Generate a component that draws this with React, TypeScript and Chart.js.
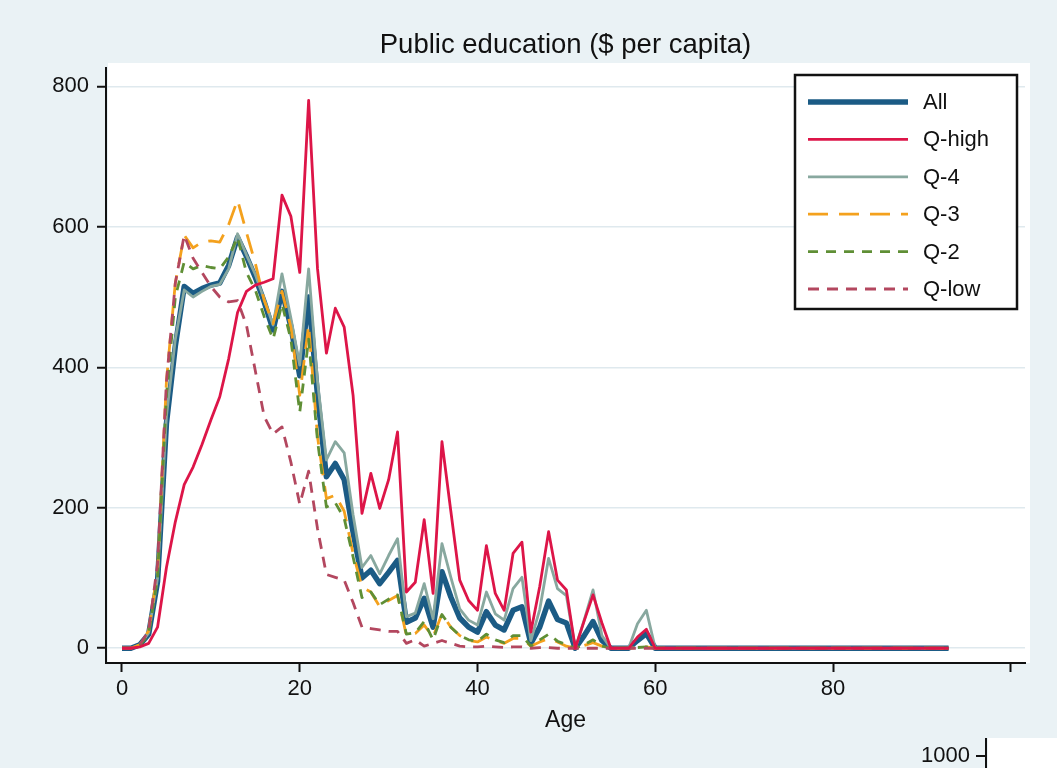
import React, { useEffect, useRef } from 'react';
import { Chart, registerables } from 'chart.js';

Chart.register(...registerables);

// ---------- data ----------
const ages = [
  0, 1, 2, 3, 4, 5, 6, 7, 8, 9,
  10, 11, 12, 13, 14, 15, 16, 17, 18, 19,
  20, 21, 22, 23, 24, 25, 26, 27, 28, 29,
  30, 31, 32, 33, 34, 35, 36, 37, 38, 39,
  40, 41, 42, 43, 44, 45, 46, 47, 48, 49,
  50, 51, 52, 53, 54, 55, 56, 57, 58, 59,
  60, 61, 62, 63, 64, 65, 66, 67, 68, 69,
  70, 71, 72, 73, 74, 75, 76, 77, 78, 79,
  80, 81, 82, 83, 84, 85, 86, 87, 88, 89,
  90, 91, 92, 93,
];

const seriesAll = [
  0, 0, 5, 20, 95, 320, 430, 515, 505, 512,
  517, 520, 545, 585, 558, 528, 493, 453, 508, 458,
  388, 500, 360, 244, 263, 240, 165, 100, 111, 92,
  108, 125, 37, 43, 71, 30, 109, 73, 43, 30,
  23, 52, 33, 26, 54, 59, 7, 30, 67, 41,
  36, 0, 18, 38, 11, 0, 0, 0, 11, 21,
  0, 0, 0, 0, 0, 0, 0, 0, 0, 0,
  0, 0, 0, 0, 0, 0, 0, 0, 0, 0,
  0, 0, 0, 0, 0, 0, 0, 0, 0, 0,
  0, 0, 0, 0,
];

const seriesQHigh = [
  0, 0, 2, 7, 30, 115, 180, 233, 258, 290,
  325, 358, 412, 478, 508, 517, 521, 526, 645, 615,
  535, 780, 540, 420, 484, 457, 360, 192, 249, 199,
  240, 308, 80, 94, 183, 78, 294, 195, 97, 68,
  54, 146, 78, 54, 135, 151, 23, 88, 166, 97,
  83, 0, 39, 76, 36, 0, 0, 0, 16, 27,
  0, 0, 0, 0, 0, 0, 0, 0, 0, 0,
  0, 0, 0, 0, 0, 0, 0, 0, 0, 0,
  0, 0, 0, 0, 0, 0, 0, 0, 0, 0,
  0, 0, 0, 0,
];

const seriesQ4 = [
  0, 0, 5, 22, 100, 330, 440, 510, 500, 508,
  515, 518, 540, 590, 560, 532, 497, 460, 533, 470,
  403, 540, 380, 268, 294, 278, 190, 115, 132, 106,
  132, 156, 45, 50, 92, 42, 149, 101, 56, 40,
  33, 80, 49, 40, 85, 101, 11, 55, 128, 85,
  75, 0, 40, 83, 18, 0, 0, 0, 35, 54,
  0, 0, 0, 0, 0, 0, 0, 0, 0, 0,
  0, 0, 0, 0, 0, 0, 0, 0, 0, 0,
  0, 0, 0, 0, 0, 0, 0, 0, 0, 0,
  0, 0, 0, 0,
];

const seriesQ3 = [
  0, 0, 5, 25, 110, 380, 520, 588, 570, 578,
  580, 578, 603, 638, 592, 548, 495, 462, 508, 457,
  360, 460, 301, 213, 218, 195, 135, 87, 80, 59,
  68, 75, 18, 21, 33, 16, 49, 30, 18, 11,
  9, 16, 11, 7, 14, 14, 3, 9, 14, 9,
  3, 0, 4, 8, 3, 0, 0, 0, 1, 2,
  0, 0, 0, 0, 0, 0, 0, 0, 0, 0,
  0, 0, 0, 0, 0, 0, 0, 0, 0, 0,
  0, 0, 0, 0, 0, 0, 0, 0, 0, 0,
  0, 0, 0, 0,
];

const seriesQ2 = [
  0, 0, 4, 20, 100, 360, 500, 550, 540, 545,
  542, 540, 557, 585, 535, 510, 472, 440, 490, 440,
  336, 440, 295, 201, 207, 185, 130, 72, 80, 62,
  70, 76, 20, 22, 38, 12, 48, 30, 18, 12,
  10, 20, 12, 8, 18, 18, 3, 12, 20, 10,
  5, 0, 5, 12, 3, 0, 0, 0, 1, 2,
  0, 0, 0, 0, 0, 0, 0, 0, 0, 0,
  0, 0, 0, 0, 0, 0, 0, 0, 0, 0,
  0, 0, 0, 0, 0, 0, 0, 0, 0, 0,
  0, 0, 0, 0,
];

const seriesQLow = [
  0, 0, 5, 25, 120, 380, 520, 588, 555, 535,
  515, 500, 493, 495, 460, 395, 330, 305, 315, 265,
  205, 252, 170, 105, 101, 97, 65, 30, 28, 26,
  24, 24, 7, 12, 3, 7, 11, 7, 3, 2,
  2, 3, 2, 1, 2, 2, 0, 1, 1, 0,
  0, 0, 0, 0, 0, 0, 0, 0, 0, 0,
  0, 0, 0, 0, 0, 0, 0, 0, 0, 0,
  0, 0, 0, 0, 0, 0, 0, 0, 0, 0,
  0, 0, 0, 0, 0, 0, 0, 0, 0, 0,
  0, 0, 0, 0,
];

const seriesNames = ['All', 'Q-high', 'Q-4', 'Q-3', 'Q-2', 'Q-low'];
const xTickValues = [0, 20, 40, 60, 80, 100];
const xTickLabels = ['0', '20', '40', '60', '80', ''];
const yTickValues = [0, 200, 400, 600, 800];
const yTickLabels = ['0', '200', '400', '600', '800'];

const FONT = '"Liberation Sans", Arial, Helvetica, sans-serif';
const TEXT = '#111111';

const toPoints = (vals: number[]) => vals.map((v, i) => ({ x: ages[i], y: v }));

const bgPlugin = {
  id: 'bgPlugin',
  beforeDraw(chart: any) {
    const { ctx, width, height, chartArea: a } = chart;
    ctx.save();
    ctx.fillStyle = '#eaf2f5';
    ctx.fillRect(0, 0, width, height);
    ctx.fillStyle = '#ffffff';
    ctx.fillRect(a.left + 2, a.top - 5, a.right - a.left + 3, a.bottom - a.top + 5);
    // fragment of the next panel (bottom-right)
    ctx.fillRect(988, 738, width - 988, height - 738);
    ctx.restore();
  },
};

const overlayPlugin = {
  id: 'overlayPlugin',
  afterDraw(chart: any) {
    const { ctx } = chart;
    ctx.save();
    // legend box
    const bx = 795, by = 75, bw = 222, bh = 234;
    ctx.fillStyle = '#ffffff';
    ctx.fillRect(bx, by, bw, bh);
    ctx.lineWidth = 2.5;
    ctx.strokeStyle = '#111111';
    ctx.setLineDash([]);
    ctx.strokeRect(bx, by, bw, bh);
    chart.data.datasets.forEach((ds: any, i: number) => {
      const y = 102 + i * 37.4;
      ctx.beginPath();
      ctx.setLineDash(ds.borderDash || []);
      ctx.lineWidth = ds.borderWidth;
      ctx.strokeStyle = ds.borderColor;
      ctx.lineCap = 'butt';
      ctx.moveTo(808, y);
      ctx.lineTo(908, y);
      ctx.stroke();
      ctx.setLineDash([]);
      ctx.fillStyle = TEXT;
      ctx.font = `22px ${FONT}`;
      ctx.textAlign = 'left';
      ctx.textBaseline = 'middle';
      ctx.fillText(ds.label, 923, y + 1);
    });
    // fragment of next panel axis
    ctx.strokeStyle = '#111111';
    ctx.lineWidth = 2;
    ctx.beginPath();
    ctx.moveTo(986, 738);
    ctx.lineTo(986, 768);
    ctx.moveTo(976, 756);
    ctx.lineTo(986, 756);
    ctx.stroke();
    ctx.fillStyle = TEXT;
    ctx.font = `22px ${FONT}`;
    ctx.textAlign = 'right';
    ctx.textBaseline = 'middle';
    ctx.fillText('1000', 970, 756);
    ctx.restore();
  },
};

export default function App() {
  const canvasRef = useRef<HTMLCanvasElement | null>(null);

  useEffect(() => {
    const canvas = canvasRef.current;
    if (!canvas) return;
    const allSeries = [seriesAll, seriesQHigh, seriesQ4, seriesQ3, seriesQ2, seriesQLow];
    const colors = ['#1b5b85', '#dd1548', '#88a89f', '#f4a11d', '#5f8f35', '#b3475f'];
    const widths = [5.5, 2.8, 2.8, 2.8, 2.8, 2.8];
    const dashes: number[][] = [[], [], [], [20, 11], [10, 8], [11, 8]];
    const orders = [5, 0, 4, 3, 2, 1];

    const chart = new Chart(canvas, {
      type: 'line',
      data: {
        datasets: allSeries.map((s, i) => ({
          label: seriesNames[i],
          data: toPoints(s),
          borderColor: colors[i],
          backgroundColor: colors[i],
          borderWidth: widths[i],
          borderDash: dashes[i],
          borderJoinStyle: 'round' as const,
          pointRadius: 0,
          pointHoverRadius: 0,
          tension: 0,
          fill: false,
          order: orders[i],
        })),
      },
      options: {
        animation: false,
        responsive: false,
        events: [],
        layout: { padding: { left: 0, right: 32, top: 0, bottom: 0 } },
        plugins: {
          legend: { display: false },
          tooltip: { enabled: false },
          title: {
            display: true,
            text: 'Public education ($ per capita)',
            color: TEXT,
            fullSize: false,
            font: { family: FONT, size: 27.5, weight: 'normal' as const, lineHeight: 1.2 },
            padding: { top: 29, bottom: 6 },
          },
        },
        scales: {
          x: {
            type: 'linear',
            min: -1.8,
            max: 101.6,
            afterFit: (scale: any) => {
              scale.height = 105;
            },
            afterBuildTicks: (scale: any) => {
              scale.ticks = xTickValues.map((v) => ({ value: v }));
            },
            ticks: {
              autoSkip: false,
              maxRotation: 0,
              color: TEXT,
              padding: 4,
              font: { family: FONT, size: 22 },
              callback: (v: any) => {
                const idx = xTickValues.indexOf(Number(v));
                return idx >= 0 ? xTickLabels[idx] : '';
              },
            },
            grid: {
              display: true,
              drawOnChartArea: false,
              drawTicks: true,
              tickLength: 9,
              tickColor: '#111111',
              tickWidth: 2,
            },
            border: { display: true, color: '#111111', width: 2 },
            title: {
              display: true,
              text: 'Age',
              color: TEXT,
              font: { family: FONT, size: 23, lineHeight: 1.2 },
              padding: { top: 0, bottom: 34 },
            },
          },
          y: {
            type: 'linear',
            min: -21,
            max: 826,
            afterFit: (scale: any) => {
              scale.width = 106;
            },
            afterBuildTicks: (scale: any) => {
              scale.ticks = yTickValues.map((v) => ({ value: v }));
            },
            ticks: {
              autoSkip: false,
              color: TEXT,
              padding: 8,
              font: { family: FONT, size: 22 },
              callback: (v: any) => {
                const idx = yTickValues.indexOf(Number(v));
                return idx >= 0 ? yTickLabels[idx] : '';
              },
            },
            grid: {
              display: true,
              drawOnChartArea: true,
              color: '#dfe9ee',
              lineWidth: 1.5,
              drawTicks: true,
              tickLength: 9,
              tickColor: '#111111',
              tickWidth: 2,
            },
            border: { display: true, color: '#111111', width: 2 },
          },
        },
      },
      plugins: [bgPlugin, overlayPlugin],
    } as any);

    return () => {
      chart.destroy();
    };
  }, []);

  return (
    <div style={{ position: 'absolute', left: 0, top: 0, width: 1057, height: 768 }}>
      <canvas ref={canvasRef} width={1057} height={768} style={{ display: 'block' }} />
    </div>
  );
}
